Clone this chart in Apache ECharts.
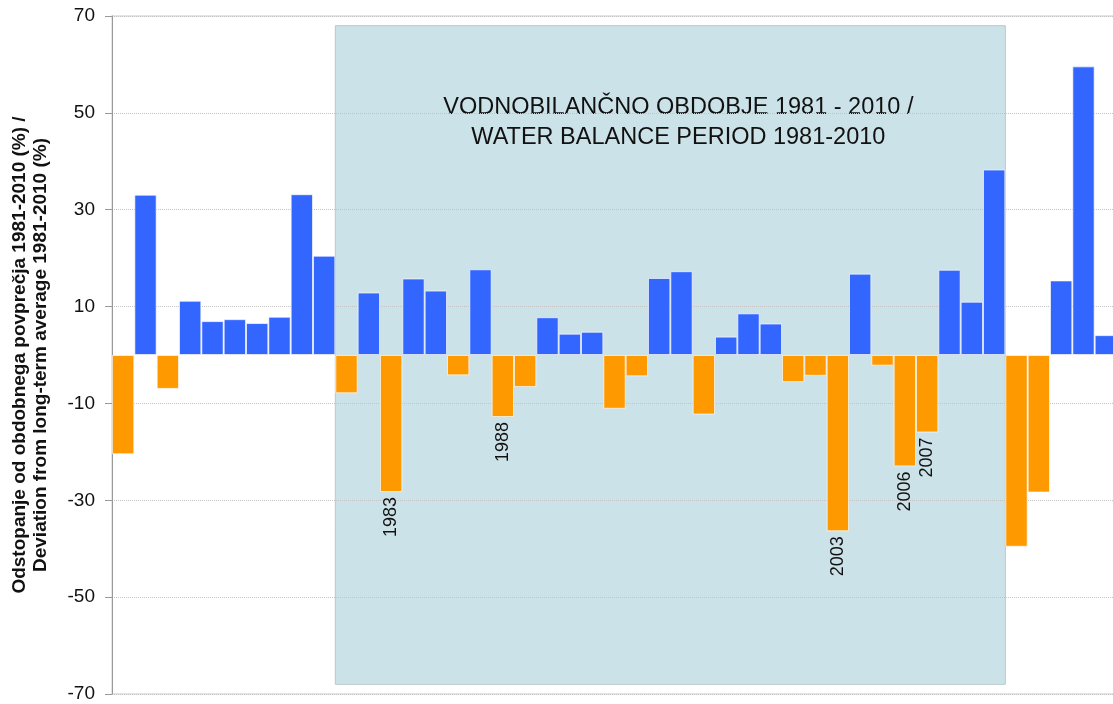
<!DOCTYPE html>
<html>
<head>
<meta charset="utf-8">
<script src="https://cdn.jsdelivr.net/npm/echarts@6/dist/echarts.min.js"></script>
<style>
html,body{margin:0;padding:0;background:#fff;}
#chart{width:1113px;height:704px;}
</style>
</head>
<body>
<div id="chart"></div>
<script>
// ---- data ----
const years = ['1971','1972','1973','1974','1975','1976','1977','1978','1979','1980',
  '1981','1982','1983','1984','1985','1986','1987','1988','1989','1990',
  '1991','1992','1993','1994','1995','1996','1997','1998','1999','2000',
  '2001','2002','2003','2004','2005','2006','2007','2008','2009','2010',
  '2011','2012','2013','2014','2015'];
const deviations = [-20.5, 33.1, -7.0, 11.2, 7.0, 7.4, 6.6, 7.9, 33.2, 20.5,
  -7.9, 12.9, -28.3, 15.8, 13.3, -4.2, 17.7, -12.8, -6.6, 7.8,
  4.4, 4.8, -11.1, -4.4, 15.9, 17.3, -12.3, 3.8, 8.6, 6.5,
  -5.6, -4.3, -36.4, 16.8, -2.2, -23.0, -16.0, 17.6, 11.0, 38.3,
  -39.6, -28.4, 15.4, 59.6, 4.1];
const labeledYears = ['1983','1988','2003','2006','2007'];
const yTicks = [-70, -50, -30, -10, 10, 30, 50, 70];
const periodStart = 1981;
const periodEnd = 2010;
const periodText = 'VODNOBILANČNO OBDOBJE 1981 - 2010 /\nWATER BALANCE PERIOD 1981-2010';
const yAxisTitle = 'Odstopanje od obdobnega povprečja 1981-2010 (%) /\nDeviation from long-term average 1981-2010 (%)';
const shadeTop = 68;
const shadeBottom = -68;

const BLUE = '#3366ff';
const ORANGE = '#ff9900';

const barData = years.map((y, i) => {
  const item = { value: deviations[i] };
  if (labeledYears.indexOf(y) >= 0) item.label = { show: true };
  return item;
});

const chart = echarts.init(document.getElementById('chart'), null, { renderer: 'canvas' });
chart.setOption({
  animation: false,
  backgroundColor: '#ffffff',
  grid: {
    left: 112, top: 16, bottom: 10, width: 1005,
    outerBoundsMode: 'none', containLabel: false,
    show: true, borderColor: '#dddddd', borderWidth: 1.5, backgroundColor: 'transparent'
  },
  xAxis: [
    {
      type: 'category', data: years,
      axisLine: { show: false }, axisTick: { show: false }, axisLabel: { show: false },
      splitLine: { show: false }
    },
    {
      type: 'value', min: 1970.5, max: 2015.5, show: false
    }
  ],
  yAxis: {
    type: 'value', min: -70, max: 70, z: 1.5,
    name: yAxisTitle, nameLocation: 'middle', nameGap: 60,
    nameTextStyle: { fontFamily: 'Liberation Sans, Arial, sans-serif', fontSize: 19, fontWeight: 'bold', color: '#111', lineHeight: 21.5, align: 'center' },
    axisLine: { show: true, lineStyle: { color: '#999999', width: 1 } },
    axisTick: { show: true, length: 7, lineStyle: { color: '#999999' }, customValues: yTicks },
    axisLabel: { customValues: yTicks, fontFamily: 'Liberation Sans, Arial, sans-serif', fontSize: 19, color: '#111', margin: 17 },
    splitLine: { show: true, lineStyle: { color: '#c4c4c4', type: 'dotted', width: 1 } }
  },
  series: [
    {
      type: 'scatter', xAxisIndex: 1, yAxisIndex: 0, silent: true,
      symbolSize: 0, data: [[periodStart, 0]],
      markArea: {
        silent: true, z: 1,
        itemStyle: { color: '#cce2e9', borderColor: '#b9c9cd', borderWidth: 1 },
        label: {
          show: true, position: 'insideTop', distance: 67, offset: [8, 0],
          formatter: periodText,
          fontFamily: 'Liberation Sans, Arial, sans-serif', fontSize: 23.5, color: '#111', lineHeight: 30, align: 'center'
        },
        data: [[
          { coord: [periodStart - 0.5, shadeTop] },
          { coord: [periodEnd + 0.5, shadeBottom] }
        ]]
      }
    },
    {
      type: 'bar', xAxisIndex: 0, yAxisIndex: 0, z: 2,
      data: barData,
      barCategoryGap: '0%',
      itemStyle: {
        color: p => (p.value >= 0 ? BLUE : ORANGE),
        borderColor: 'rgba(255,255,255,0.65)', borderWidth: 1
      },
      label: {
        show: false, position: 'bottom', distance: 5, rotate: 90,
        align: 'right', verticalAlign: 'middle',
        formatter: p => p.name,
        fontFamily: 'Liberation Sans, Arial, sans-serif', fontSize: 18, color: '#111'
      }
    }
  ]
});
</script>
</body>
</html>
